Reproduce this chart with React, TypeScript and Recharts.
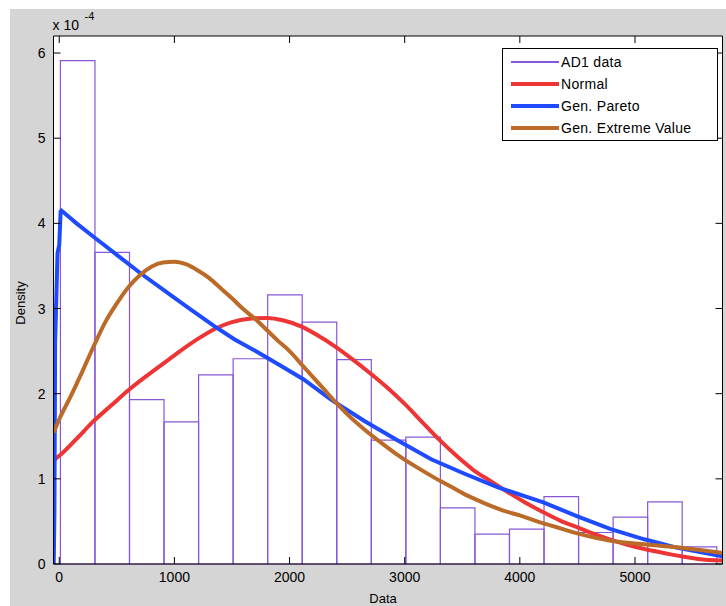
import React from 'react';
import { ComposedChart, Line, XAxis, YAxis, ReferenceArea, Legend, CartesianGrid } from 'recharts';

const FONT = '"Liberation Sans", Arial, Helvetica, sans-serif';
const PURPLE = '#8757d8';
const RED = '#ee3535';
const BLUE = '#1f4bff';
const BROWN = '#bb6a28';

// histogram (density, x 1e-4)
const binLeftEdges = [10, 310, 610, 910, 1210, 1510, 1810, 2110, 2410, 2710, 3010, 3310, 3610, 3910, 4210, 4510, 4810, 5110, 5410];
const binWidth = 300;
const binHeights = [5.91, 3.66, 1.93, 1.67, 2.22, 2.41, 3.16, 2.84, 2.4, 1.455, 1.49, 0.66, 0.35, 0.41, 0.79, 0.37, 0.55, 0.73, 0.2];

// Normal fit
const normalX = [-45, 0, 150, 300, 450, 600, 750, 900, 1050, 1200, 1350, 1500, 1650, 1800, 1950, 2100, 2250, 2400, 2550, 2700, 2850, 3000, 3150, 3300, 3450, 3600, 3750, 3900, 4050, 4200, 4350, 4500, 4650, 4800, 4950, 5100, 5250, 5400, 5550, 5760];
const normalY = [1.22, 1.27, 1.47, 1.68, 1.86, 2.04, 2.2, 2.35, 2.5, 2.64, 2.76, 2.84, 2.88, 2.89, 2.86, 2.79, 2.68, 2.55, 2.4, 2.24, 2.07, 1.88, 1.67, 1.46, 1.27, 1.1, 0.97, 0.84, 0.72, 0.61, 0.51, 0.43, 0.35, 0.28, 0.22, 0.17, 0.13, 0.09, 0.06, 0.04];

// Generalized Pareto fit
const paretoX = [-48, -42, -36, -28, -15, 0, 12, 20, 150, 300, 500, 700, 965, 1140, 1340, 1520, 1720, 1920, 2120, 2360, 2650, 2940, 3230, 3520, 3810, 4100, 4210, 4500, 4790, 5080, 5370, 5760];
const paretoY = [0, 0.6, 2.6, 3.0, 3.65, 3.75, 4.14, 4.15, 4.0, 3.84, 3.63, 3.42, 3.16, 2.99, 2.8, 2.64, 2.49, 2.33, 2.17, 1.93, 1.68, 1.45, 1.23, 1.06, 0.9, 0.77, 0.72, 0.56, 0.41, 0.29, 0.19, 0.09];

// Generalized Extreme Value fit
const gevX = [-50, 0, 100, 200, 300, 400, 500, 600, 700, 800, 900, 1000, 1100, 1200, 1300, 1400, 1500, 1600, 1700, 1800, 1900, 2000, 2100, 2200, 2300, 2400, 2500, 2650, 2800, 2950, 3100, 3250, 3400, 3550, 3700, 3850, 4000, 4150, 4300, 4500, 4800, 5100, 5400, 5760];
const gevY = [1.54, 1.7, 1.97, 2.26, 2.56, 2.84, 3.06, 3.25, 3.39, 3.49, 3.54, 3.55, 3.52, 3.45, 3.36, 3.24, 3.12, 2.99, 2.88, 2.75, 2.62, 2.5, 2.35, 2.2, 2.05, 1.9, 1.76, 1.58, 1.42, 1.27, 1.14, 1.02, 0.91, 0.8, 0.71, 0.63, 0.57, 0.5, 0.44, 0.36, 0.27, 0.23, 0.19, 0.13];

const xTicks = [0, 1000, 2000, 3000, 4000, 5000];
const yTicks = [0, 1, 2, 3, 4, 5, 6];
const xDomain = [-50, 5760];
const yDomain = [0, 6.2];

const legendNames = ['AD1 data', 'Normal', 'Gen. Pareto', 'Gen. Extreme Value'];
const legendColors = [PURPLE, RED, BLUE, BROWN];
const legendThickness = [1.3, 4, 4, 4];

const toPoints = (xs: number[], ys: number[]) => xs.map((x, i) => ({ x, y: ys[i] }));
const normalData = toPoints(normalX, normalY);
const paretoData = toPoints(paretoX, paretoY);
const gevData = toPoints(gevX, gevY);

const BottomTick = (props: any) => {
  const { x, y, payload } = props;
  return (
    <g>
      <line x1={x} x2={x} y1={y} y2={y - 7} stroke="#000" strokeWidth={1} />
      <text x={x} y={y + 18} textAnchor="middle" fontSize={14} fontFamily={FONT} fill="#000">
        {payload.value}
      </text>
    </g>
  );
};

const TopTick = (props: any) => {
  const { x, y } = props;
  return <line x1={x} x2={x} y1={y} y2={y + 7} stroke="#000" strokeWidth={1} />;
};

const LeftTick = (props: any) => {
  const { x, y, payload } = props;
  return (
    <g>
      <line x1={x} x2={x + 7} y1={y} y2={y} stroke="#000" strokeWidth={1} />
      <text x={x - 8} y={y + 5} textAnchor="end" fontSize={14} fontFamily={FONT} fill="#000">
        {payload.value}
      </text>
    </g>
  );
};

const RightTick = (props: any) => {
  const { x, y } = props;
  return <line x1={x} x2={x - 7} y1={y} y2={y} stroke="#000" strokeWidth={1} />;
};

const DataLabel = (props: any) => {
  const vb = props.viewBox || { x: 0, y: 0, width: 0, height: 0 };
  return (
    <text x={vb.x + vb.width / 2 - 5} y={vb.y + vb.height - 3} textAnchor="middle" fontSize={13} fontFamily={FONT} fill="#000">
      Data
    </text>
  );
};

const DensityLabel = (props: any) => {
  const vb = props.viewBox || { x: 0, y: 0, width: 0, height: 0 };
  const cx = 10;
  const cy = vb.y + vb.height / 2 + 3;
  return (
    <text x={cx} y={cy} transform={`rotate(-90 ${cx} ${cy})`} textAnchor="middle" dominantBaseline="central" fontSize={13} fontFamily={FONT} fill="#000">
      Density
    </text>
  );
};

const ExpLabel = (props: any) => {
  const vb = props.viewBox || { x: 0, y: 0, width: 0, height: 0 };
  const x0 = vb.x - 1;
  return (
    <text x={x0} y={21} fontSize={14} fontFamily={FONT} fill="#000">
      x 10
      <tspan x={x0 + 32} y={11} fontSize={11}>-4</tspan>
    </text>
  );
};

const LegendBox = () => (
  <div
    style={{
      width: 214,
      height: 89,
      border: '1px solid #000',
      background: '#fff',
      fontFamily: FONT,
      fontSize: 14,
      color: '#000',
      paddingTop: 2,
      boxSizing: 'content-box',
    }}
  >
    {legendNames.map((name, i) => (
      <div key={name} style={{ height: 22, display: 'flex', alignItems: 'center' }}>
        <div style={{ width: 8 }} />
        <div style={{ width: 48, height: legendThickness[i], background: legendColors[i] }} />
        <div style={{ marginLeft: 2, whiteSpace: 'nowrap', letterSpacing: 0.3 }}>{name}</div>
      </div>
    ))}
  </div>
);

export default function App() {
  return (
    <div style={{ position: 'absolute', left: 10, top: 9, width: 716, height: 597, background: '#d5d5d5' }}>
      <ComposedChart width={716} height={597} margin={{ top: 0, right: 0, bottom: 0, left: 0 }}>
        <CartesianGrid fill="#ffffff" stroke="none" horizontal={false} vertical={false} />
        <XAxis
          xAxisId={0}
          type="number"
          dataKey="x"
          domain={xDomain}
          allowDataOverflow
          ticks={xTicks}
          interval={0}
          orientation="bottom"
          height={42}
          tickLine={false}
          tickSize={0}
          tickMargin={0}
          tick={<BottomTick />}
          axisLine={{ stroke: '#000', strokeWidth: 1 }}
          label={{ content: DataLabel }}
        />
        <XAxis
          xAxisId="top"
          type="number"
          dataKey="x"
          domain={xDomain}
          allowDataOverflow
          ticks={xTicks}
          interval={0}
          orientation="top"
          height={27}
          tickLine={false}
          tickSize={0}
          tickMargin={0}
          tick={<TopTick />}
          axisLine={{ stroke: '#000', strokeWidth: 1 }}
          label={{ content: ExpLabel }}
        />
        <YAxis
          yAxisId={0}
          type="number"
          domain={yDomain}
          allowDataOverflow
          ticks={yTicks}
          interval={0}
          orientation="left"
          width={43.5}
          tickLine={false}
          tickSize={0}
          tickMargin={0}
          tick={<LeftTick />}
          axisLine={{ stroke: '#000', strokeWidth: 1 }}
          label={{ content: DensityLabel }}
        />
        <YAxis
          yAxisId="right"
          type="number"
          domain={yDomain}
          allowDataOverflow
          ticks={yTicks}
          interval={0}
          orientation="right"
          width={3.5}
          tickLine={false}
          tickSize={0}
          tickMargin={0}
          tick={<RightTick />}
          axisLine={{ stroke: '#000', strokeWidth: 1 }}
        />
        {binLeftEdges.map((e, i) => (
          <ReferenceArea
            key={e}
            xAxisId={0}
            yAxisId={0}
            x1={e}
            x2={e + binWidth}
            y1={0}
            y2={binHeights[i]}
            fill="none"
            fillOpacity={0}
            stroke={PURPLE}
            strokeWidth={1.2}
            strokeOpacity={1}
            ifOverflow="visible"
          />
        ))}
        <Line data={normalData} dataKey="y" xAxisId={0} yAxisId={0} type="monotone" stroke={RED} strokeWidth={4} dot={false} activeDot={false} isAnimationActive={false} name="Normal" />
        <Line data={paretoData} dataKey="y" xAxisId={0} yAxisId={0} type="linear" stroke={BLUE} strokeWidth={4} dot={false} activeDot={false} isAnimationActive={false} name="Gen. Pareto" />
        <Line data={gevData} dataKey="y" xAxisId={0} yAxisId={0} type="monotone" stroke={BROWN} strokeWidth={4} dot={false} activeDot={false} isAnimationActive={false} name="Gen. Extreme Value" />
        <Legend
          layout="vertical"
          align="center"
          verticalAlign="middle"
          wrapperStyle={{ left: 492, top: 39, width: 216, height: 92 }}
          content={() => <LegendBox />}
        />
      </ComposedChart>
    </div>
  );
}
